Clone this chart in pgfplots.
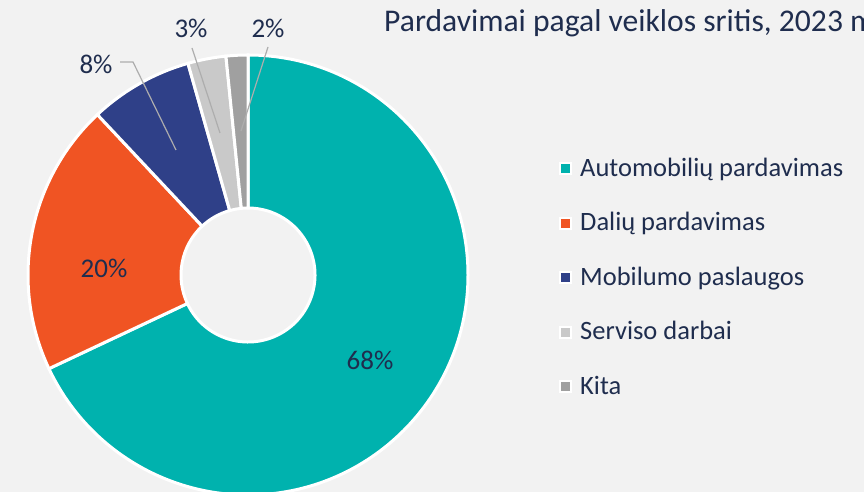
\documentclass[border=0pt]{standalone}
\usepackage{fontspec}
\setmainfont{Carlito}
\usepackage{pgfplots}
\usepackage{pgfplotstable}
\pgfplotsset{compat=1.18}
\definecolor{bg}{HTML}{F2F2F2}
\definecolor{txt}{HTML}{1F2D4E}
\definecolor{cA}{HTML}{00B2AE}
\definecolor{cB}{HTML}{F05423}
\definecolor{cC}{HTML}{2F4088}
\definecolor{cD}{HTML}{C9C9C9}
\definecolor{cE}{HTML}{A0A0A0}
\definecolor{lead}{HTML}{ADADAD}
\pgfplotstableread{
name value
A 68.0
B 20.0
C 7.6
D 2.8
E 1.6
}\sharedata
\newcommand{\donutslice}[3]{%
  \fill[#1, draw=white, line width=3pt, line join=miter]
    (axis cs:{248+220*cos(#2)},{217+220*sin(#2)})
    arc[start angle=#2, end angle=#3, radius=220pt]
    -- (axis cs:{248+67*cos(#3)},{217+67*sin(#3)})
    arc[start angle=#3, end angle=#2, radius=67pt] -- cycle;}
\begin{document}
\begin{tikzpicture}
\useasboundingbox (0,0) rectangle (864pt,492pt);
\clip (0,0) rectangle (864pt,492pt);
\fill[bg] (0,0) rectangle (864pt,492pt);
\pgfplotstablegetelem{0}{value}\of\sharedata \let\vA\pgfplotsretval
\pgfplotstablegetelem{1}{value}\of\sharedata \let\vB\pgfplotsretval
\pgfplotstablegetelem{2}{value}\of\sharedata \let\vC\pgfplotsretval
\pgfplotstablegetelem{3}{value}\of\sharedata \let\vD\pgfplotsretval
\pgfplotstablegetelem{4}{value}\of\sharedata \let\vE\pgfplotsretval
\pgfmathsetmacro\aA{90}
\pgfmathsetmacro\aB{\aA-3.6*\vA}
\pgfmathsetmacro\aC{\aB-3.6*\vB}
\pgfmathsetmacro\aD{\aC-3.6*\vC}
\pgfmathsetmacro\aE{\aD-3.6*\vD}
\pgfmathsetmacro\aF{\aE-3.6*\vE}
\begin{axis}[at={(0pt,0pt)}, anchor=south west, width=864pt, height=492pt,
  scale only axis, xmin=0, xmax=864, ymin=0, ymax=492, hide axis, clip=false]
\donutslice{cA}{\aA}{\aB}
\donutslice{cB}{\aB}{\aC}
\donutslice{cC}{\aC}{\aD}
\donutslice{cD}{\aD}{\aE}
\donutslice{cE}{\aE}{\aF}
% leader lines
\draw[lead, line width=1.2pt] (axis cs:120,430) -- (axis cs:133,430) -- (axis cs:176,342);
\draw[lead, line width=1.2pt] (axis cs:192,444) -- (axis cs:220,359);
\draw[lead, line width=1.2pt] (axis cs:268,445) -- (axis cs:241,361);
% labels
\tikzset{lab/.style={text=txt, font=\fontsize{27}{30}\selectfont, inner sep=0pt}}
\node[lab] at (axis cs:370,132) {68\%};
\node[lab] at (axis cs:104,224) {20\%};
\node[lab] at (axis cs:96,428) {8\%};
\node[lab] at (axis cs:191,464) {3\%};
\node[lab] at (axis cs:268,464) {2\%};
% title
\node[text=txt, font=\fontsize{31.6}{34}\selectfont, inner sep=0pt, anchor=base west] at (axis cs:384,460) {Pardavimai pagal veiklos sritis, 2023 m.};
% legend
\tikzset{leg/.style={text=txt, font=\fontsize{26.5}{29}\selectfont, inner sep=0pt, anchor=base west}}
\foreach \c/\t/\ys/\yb in {cA/Automobilių pardavimas/323/315.3, cB/Dalių pardavimas/268.5/261, cC/Mobilumo paslaugos/214/206.5, cD/Serviso darbai/159.5/152, cE/Kita/105/97.5}{
  \edef\temp{\noexpand\fill[\c, draw=white, line width=2pt] (axis cs:560,\ys-5.5) rectangle (axis cs:571,\ys+5.5);
  \noexpand\node[leg] at (axis cs:580,\yb) {\t};}
  \temp
}
\end{axis}
\end{tikzpicture}
\end{document}
